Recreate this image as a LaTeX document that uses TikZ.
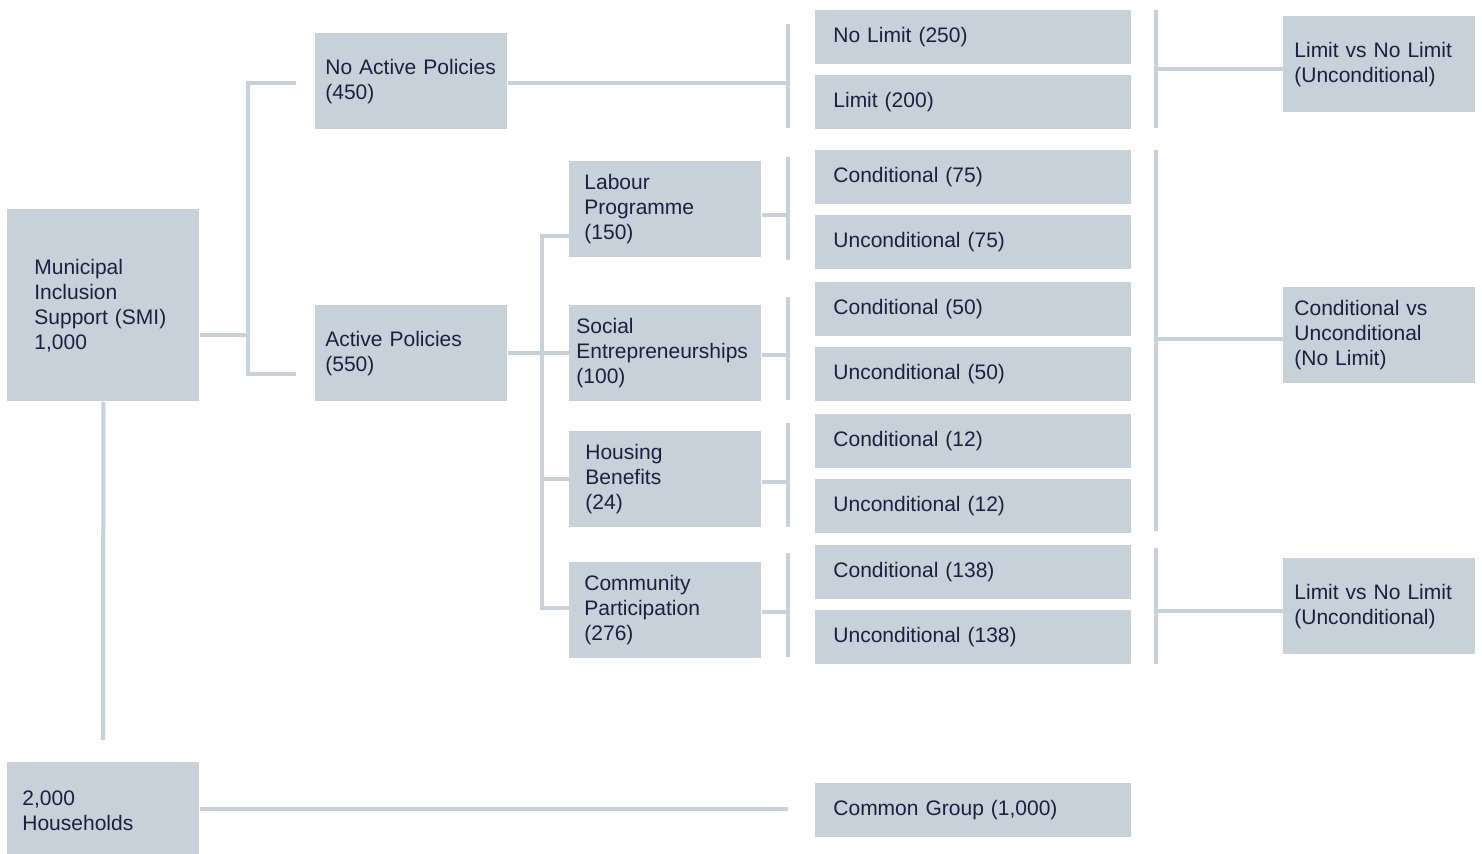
\documentclass[tikz,border=0pt]{standalone}
\usepackage{fontspec}
\setmainfont{Liberation Sans}
\definecolor{boxgray}{HTML}{C8D0DA}
\definecolor{inkblue}{HTML}{18223E}
\tikzset{
  box/.style={fill=boxgray, text=inkblue, anchor=north west, align=left,
    inner ysep=0pt, font=\fontsize{10.5}{12.5}\selectfont},
  sqbox/.style={box, minimum height=48pt, inner xsep=#1, text width=96pt-2*#1},
  widebox/.style={box, minimum height=27pt, inner xsep=9pt, text width=140pt},
  link/.style={draw=boxgray, line width=2pt}
}
\begin{document}
\begin{tikzpicture}[x=0.5pt, y=-0.5pt]
            \useasboundingbox (0,0) rectangle (1482,853);
            % left column
            \node[sqbox=13.5pt, minimum height=96pt] (smi) at (7,209) {Municipal\\Inclusion\\Support (SMI)\\1,000};
            \node[sqbox=7.5pt] (hh) at (7,762) {2,000\\Households};
            \node[sqbox=5pt] (nap) at (315,33) {No Active Policies\\(450)};
            \node[sqbox=5pt] (ap) at (315,305) {Active Policies\\(550)};
            % policies
            \node[sqbox=7.5pt] (lp) at (569,161) {Labour\\Programme\\(150)};
            \node[sqbox=3.5pt] (se) at (569,305) {Social\\Entrepreneurships\\(100)};
            \node[sqbox=8pt] (hb) at (569,431) {Housing\\Benefits\\(24)};
            \node[sqbox=7.5pt] (cp) at (569,562) {Community\\Participation\\(276)};
            % groups
            \node[widebox] (nolim) at (815,10) {No Limit (250)};
            \node[widebox] (lim) at (815,75) {Limit (200)};
            \node[widebox] (c75) at (815,150) {Conditional (75)};
            \node[widebox] (u75) at (815,215) {Unconditional (75)};
            \node[widebox] (c50) at (815,282) {Conditional (50)};
            \node[widebox] (u50) at (815,347) {Unconditional (50)};
            \node[widebox] (c12) at (815,414) {Conditional (12)};
            \node[widebox] (u12) at (815,479) {Unconditional (12)};
            \node[widebox] (c138) at (815,545) {Conditional (138)};
            \node[widebox] (u138) at (815,610) {Unconditional (138)};
            \node[widebox] (common) at (815,783) {Common Group (1,000)};
            % comparisons
            \node[sqbox=5.5pt] (cmp1) at (1283,16) {Limit vs No Limit\\(Unconditional)};
            \node[sqbox=5.5pt] (cmp2) at (1283,287) {Conditional vs\\Unconditional\\(No Limit)};
            \node[sqbox=5.5pt] (cmp3) at (1283,558) {Limit vs No Limit\\(Unconditional)};

            % first split
            \coordinate (sj) at (248,335);
            \coordinate (st) at (248,83);
            \coordinate (sb) at (248,374);
            \coordinate (nt) at (296,83);
            \coordinate (at) at (296,374);
            \draw[link] (smi.east |- sj) -- (sj);
            \draw[link] (nt) -- (st) -- (sb) -- (at);
            \coordinate (sd) at (103,740);
            \draw[link] (smi.south) -- (sd);
            \coordinate (hj) at (788,809);
            \draw[link] (hh.east |- hj) -- (hj);

            % active policies
            \coordinate (vt) at (542,236);
            \coordinate (vb) at (542,608);
            \draw[link] (ap.east) -- (se.west);
            \draw[link] (lp.west |- vt) -- (vt) -- (vb) -- (cp.west |- vb);
            \draw[link] (hb.west) -- (hb.west -| vt);

            % brackets to groups
            \coordinate (g1) at (788,83);
            \coordinate (g2) at (788,215);
            \coordinate (g3) at (788,355);
            \coordinate (g4) at (788,482);
            \coordinate (g5) at (788,612);
            \draw[link] (nap.east |- g1) -- (g1);
            \draw[link] (lp.east |- g2) -- (g2);
            \draw[link] (se.east |- g3) -- (g3);
            \draw[link] (hb.east |- g4) -- (g4);
            \draw[link] (cp.east |- g5) -- (g5);
            \draw[link] (788,24) -- (788,128);
            \draw[link] (788,157) -- (788,260);
            \draw[link] (788,297) -- (788,400);
            \draw[link] (788,423) -- (788,527);
            \draw[link] (788,553) -- (788,657);

            % brackets to comparisons
            \coordinate (r1) at (1156,69);
            \coordinate (r2) at (1156,339);
            \coordinate (r3) at (1156,611);
            \draw[link] (1156,10) -- (1156,128);
            \draw[link] (1156,150) -- (1156,531);
            \draw[link] (1156,548) -- (1156,664);
            \draw[link] (r1) -- (r1 -| cmp1.west);
            \draw[link] (r2) -- (r2 -| cmp2.west);
            \draw[link] (r3) -- (r3 -| cmp3.west);
        \end{tikzpicture}
\end{document}
